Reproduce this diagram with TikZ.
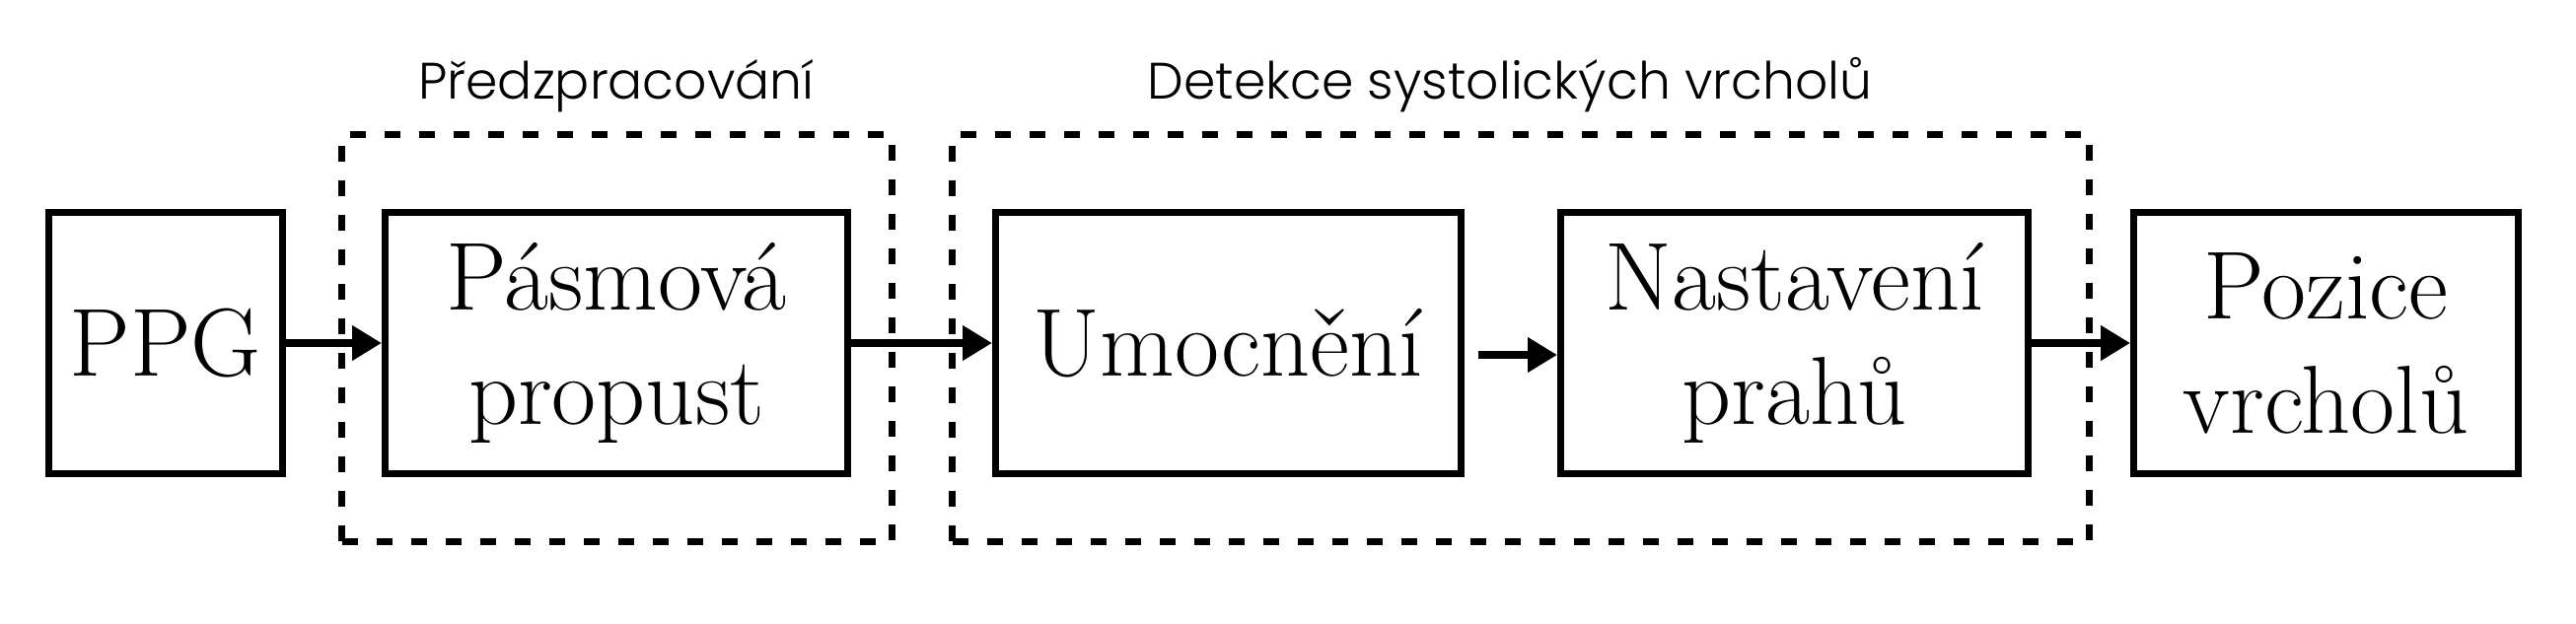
\documentclass[tikz,border=0pt]{standalone}
\usepackage{fontspec}
\newfontfamily\labfont{Poppins Light}
\usetikzlibrary{arrows.meta}
\begin{document}
\begin{tikzpicture}[x=0.5pt,y=-0.5pt,
  blk/.style={draw, line width=3.5pt, minimum height=132.5pt, align=center, inner sep=0pt,
    font=\fontsize{49}{58}\selectfont},
  grp/.style={draw, line width=3.5pt, dash pattern=on 8pt off 9.5pt, minimum height=206.5pt, inner sep=0pt},
  arr/.style={line width=3.8pt, -{Triangle[length=15pt,width=17pt]}},
  lab/.style={font=\labfont\fontsize{26}{30}\selectfont, anchor=base, inner sep=0pt}]
\useasboundingbox (0,0) rectangle (2612,632);
% groups
\node[grp, minimum width=279pt] (g1) at (625.5,343) {};
\node[grp, minimum width=576.5pt] (g2) at (1542,343) {};
\node[lab] (l1) at (625,100) {Předzpracování};
\node[lab] (l2) at (1531,100) {Detekce systolických vrcholů};
% blocks
\node[blk, minimum width=118.5pt] (ppg) at (168,348) {PPG};
\node[blk, minimum width=234.5pt] (bp) at (625,348) {Pásmová\\propust};
\node[blk, minimum width=236pt] (umo) at (1245.5,348) {Umocnění};
\node[blk, minimum width=237pt] (nas) at (1819.5,348) {Nastavení\\prahů};
\node[blk, minimum width=195pt] (poz) at (2358.5,348) {Pozice\\vrcholů};
% connectors
\draw[arr] (ppg) -- (bp);
\draw[arr] (bp) -- (umo);
\coordinate (m1) at ([xshift=7pt,yshift=-6pt]umo.east);
\draw[arr] (m1) -- (m1 -| nas.west);
\draw[arr] (nas) -- (poz);
\end{tikzpicture}
\end{document}
